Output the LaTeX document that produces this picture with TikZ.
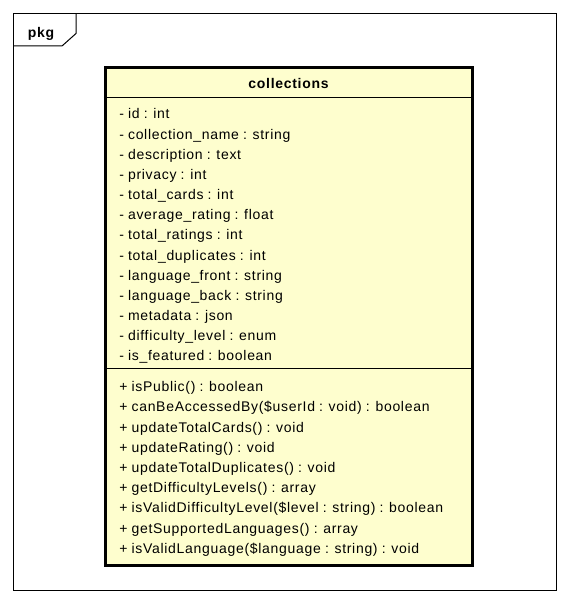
\documentclass[tikz,border=0pt]{standalone}
\usepackage{xcolor}
\usepackage{fontspec}
\usepackage{tikz}
\setmainfont{Liberation Sans}
\newfontfamily\umlfont[LetterSpace=5,WordSpace=0.9,Ligatures=NoCommon]{Liberation Sans}
\definecolor{classfill}{HTML}{FEFECE}

\begin{document}
\begin{tikzpicture}[x=0.75pt,y=-0.75pt]
    \tikzstyle{member} = [anchor=base west, inner sep=0pt, font=\umlfont\fontsize{10.5pt}{12pt}\selectfont]
    \tikzstyle{heading} = [anchor=base, inner sep=0pt, font=\umlfont\bfseries\fontsize{10.5pt}{12pt}\selectfont]
    \tikzstyle{classbox} = [rectangle, draw=black, line width=2.25pt, fill=classfill, minimum width=274.9pt, minimum height=372.75pt, inner sep=0pt]
    \tikzstyle{thin} = [draw=black, line width=0.75pt]
    \useasboundingbox (0,0) rectangle (569,602);

    % package frame and its tab
    \draw[thin] (13.5,13.5) rectangle (556,590);
    \draw[thin] (76,13.5) -- (76,33.5) -- (62,46) -- (13.5,46);
    \node (pkg) [heading] at (41,37.3) {pkg};

    % the class
    \node (cls) [classbox] at (288.75,316.5) {};
    \node (title) [heading] at (288.5,88.3) {collections};
    \draw[thin] (cls.west |- 0,97.7) -- (cls.east |- 0,97.7);
    \draw[thin] (cls.west |- 0,368.3) -- (cls.east |- 0,368.3);

    \foreach \txt [count=\i] in {
        {- id : int},
        {- collection\_name : string},
        {- description : text},
        {- privacy : int},
        {- total\_cards : int},
        {- average\_rating : float},
        {- total\_ratings : int},
        {- total\_duplicates : int},
        {- language\_front : string},
        {- language\_back : string},
        {- metadata : json},
        {- difficulty\_level : enum},
        {- is\_featured : boolean}}
        \node (attr\i) [member] at (119,{119+20.15*(\i-1)}) {\txt};

    \foreach \txt [count=\i] in {
        {+ isPublic() : boolean},
        {+ canBeAccessedBy(\$userId : void) : boolean},
        {+ updateTotalCards() : void},
        {+ updateRating() : void},
        {+ updateTotalDuplicates() : void},
        {+ getDifficultyLevels() : array},
        {+ isValidDifficultyLevel(\$level : string) : boolean},
        {+ getSupportedLanguages() : array},
        {+ isValidLanguage(\$language : string) : void}}
        \node (meth\i) [member] at (119,{391.7+20.2*(\i-1)}) {\txt};
\end{tikzpicture}
\end{document}
